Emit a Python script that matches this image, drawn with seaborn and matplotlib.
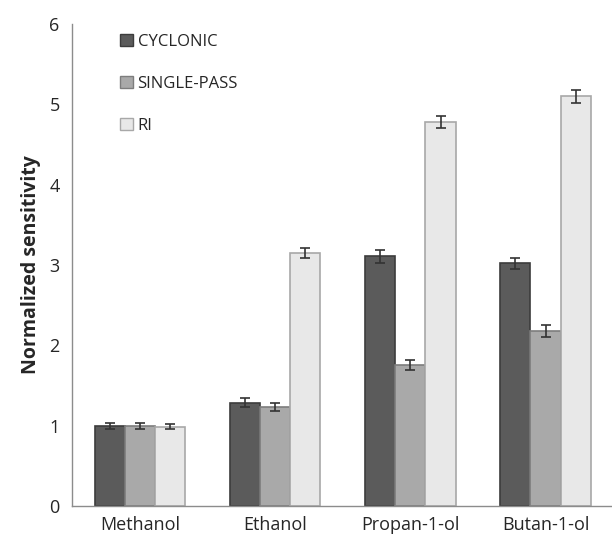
import numpy as np
import pandas as pd
import matplotlib
matplotlib.use("Agg")
import matplotlib.pyplot as plt
import seaborn as sns

alcohols = ["Methanol", "Ethanol", "Propan-1-ol", "Butan-1-ol"]
methods = ["CYCLONIC", "SINGLE-PASS", "RI"]
cyclonic = [1.00, 1.29, 3.11, 3.02]
single_pass = [1.00, 1.23, 1.76, 2.18]
ri = [0.99, 3.15, 4.78, 5.10]
err_cyclonic = [0.04, 0.05, 0.08, 0.07]
err_single = [0.04, 0.05, 0.06, 0.07]
err_ri = [0.03, 0.06, 0.07, 0.08]

df = pd.DataFrame({
    "alcohol": alcohols * 3,
    "method": [m for m in methods for _ in alcohols],
    "value": cyclonic + single_pass + ri,
    "err": err_cyclonic + err_single + err_ri,
})

sns.set_style("white")
plt.rcParams["font.family"] = ["Open Sans", "DejaVu Sans"]

palette = {"CYCLONIC": "#5b5b5b", "SINGLE-PASS": "#a9a9a9", "RI": "#e8e8e8"}
edges = {"CYCLONIC": "#3c3c3c", "SINGLE-PASS": "#7d7d7d", "RI": "#a8a8a8"}

fig = plt.figure(figsize=(6.12, 5.42), dpi=100)
ax = fig.add_axes([0.118, 0.066, 0.895, 0.89])

sns.barplot(data=df, x="alcohol", y="value", hue="method", order=alcohols,
            hue_order=methods, palette=palette, width=0.67, errorbar=None,
            saturation=1, ax=ax, legend=False)

for cont, m in zip(ax.containers, methods):
    sub = df[df.method == m].set_index("alcohol").loc[alcohols]
    xs = []
    for bar in cont:
        bar.set_edgecolor(edges[m])
        bar.set_linewidth(1.2)
        xs.append(bar.get_x() + bar.get_width() / 2)
    ax.errorbar(xs, sub["value"], yerr=sub["err"], fmt="none", ecolor="#333333",
                elinewidth=1.2, capsize=3.5, capthick=1.2)

ax.set_ylim(0, 6)
ax.set_xlim(-0.5, 3.55)
ax.set_yticks(range(7))
ax.set_xticks(np.arange(-0.5, 4, 1), minor=True)
ax.tick_params(axis="x", which="major", length=0, labelsize=13, pad=7)
ax.tick_params(axis="x", which="minor", length=5, color="#8c8c8c", direction="out")
ax.tick_params(axis="y", length=5, color="#8c8c8c", direction="out", labelsize=13, pad=4)
ax.set_xlabel("")
ax.set_ylabel("Normalized sensitivity", fontsize=14, fontweight="bold", labelpad=6)
sns.despine(ax=ax)
for s in ["left", "bottom"]:
    ax.spines[s].set_color("#8c8c8c")
    ax.spines[s].set_linewidth(1)

handles = [plt.Rectangle((0, 0), 1, 1, facecolor=palette[m], edgecolor=edges[m]) for m in methods]
ax.legend(handles, methods, loc="upper left", bbox_to_anchor=(0.06, 1.01), frameon=False,
          fontsize=12, labelspacing=1.55, handlelength=0.75, handleheight=0.75,
          handletextpad=0.3)

fig.savefig("out.png", dpi=100)
